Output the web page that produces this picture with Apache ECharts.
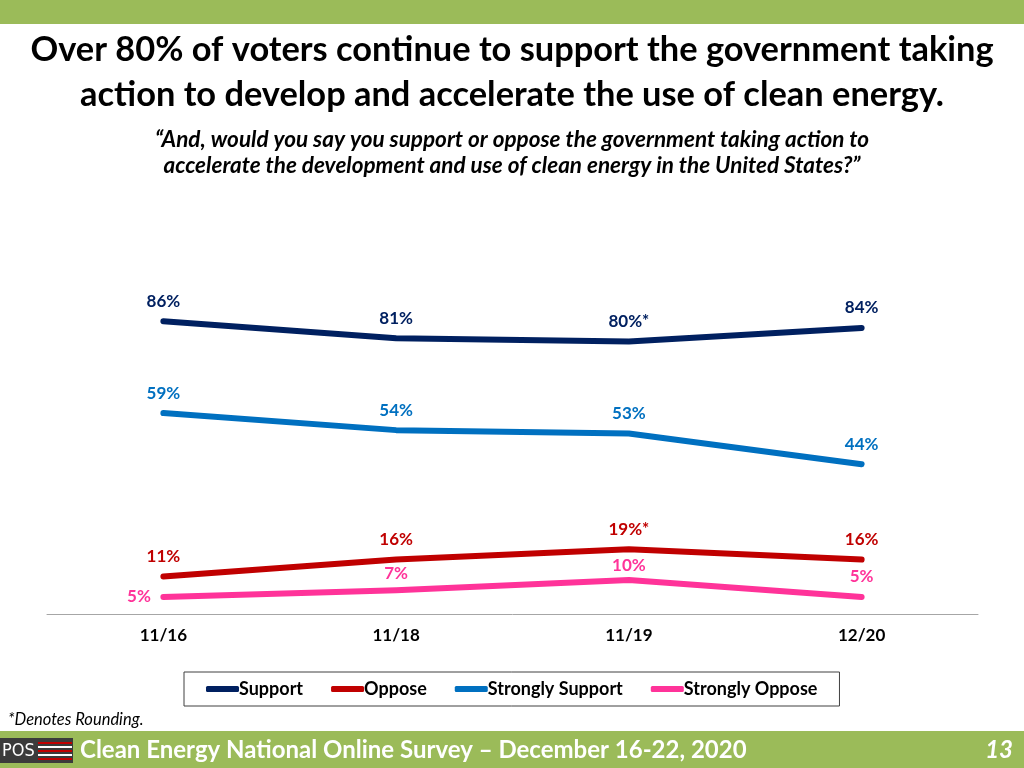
<!DOCTYPE html>
<html><head><meta charset="utf-8">
<script src="https://cdn.jsdelivr.net/npm/echarts@6/dist/echarts.min.js"></script>
<style>html,body{margin:0;padding:0;background:#fff}#c{width:1024px;height:768px}</style>
</head><body><div id="c"></div>
<script>
const categories = ['11/16', '11/18', '11/19', '12/20'];
const support = [86, 81, 80, 84];
const oppose = [11, 16, 19, 16];
const stronglySupport = [59, 54, 53, 44];
const stronglyOppose = [5, 7, 10, 5];
const supportNotes = ['', '', '*', ''];
const opposeNotes = ['', '', '*', ''];
const seriesNames = ['Support', 'Oppose', 'Strongly Support', 'Strongly Oppose'];
const colors = ['#002060', '#c00000', '#0070c0', '#ff3399'];

const FONT = 'Lato';
function mkData(vals, notes, posOverride) {
  return vals.map((v, i) => {
    const d = { value: v, label: { formatter: v + '%' + ((notes && notes[i]) || '') } };
    if (posOverride && posOverride[i]) Object.assign(d.label, posOverride[i]);
    return d;
  });
}
function mkSeries(name, data, color) {
  return {
    name, type: 'line', data, symbol: 'circle', symbolSize: 1, showSymbol: true,
    itemStyle: { color }, lineStyle: { width: 6, color, cap: 'round', join: 'round' },
    label: { show: true, position: 'top', distance: 11, color, fontFamily: FONT, fontWeight: 'bold', fontSize: 17 },
    emphasis: { disabled: true }, animation: false
  };
}

const chart = echarts.init(document.getElementById('c'), null, { renderer: 'canvas' });
chart.setOption({
  animation: false,
  color: colors,
  grid: { left: 47, right: 46, top: 273.5, bottom: 154 },
  xAxis: {
    type: 'category', data: categories, boundaryGap: true,
    axisLine: { lineStyle: { color: '#a6a6a6', width: 1 } },
    axisTick: { show: false },
    axisLabel: { margin: 13, color: '#000', fontFamily: FONT, fontWeight: 'bold', fontSize: 17 }
  },
  yAxis: { type: 'value', min: 0, max: 100, show: false, splitLine: { show: false } },
  legend: {
    data: seriesNames, left: 184, top: 672, orient: 'horizontal',
    itemWidth: 33, itemHeight: 6, icon: 'roundRect', itemGap: 28,
    borderColor: '#404040', borderWidth: 1, borderRadius: 0, padding: [8, 22, 8, 22],
    textStyle: { fontFamily: FONT, fontWeight: 'bold', fontSize: 18, color: '#000', padding: [0, 0, 0, -5] }
  },
  series: [
    mkSeries('Support', mkData(support, supportNotes), colors[0]),
    mkSeries('Oppose', mkData(oppose, opposeNotes), colors[1]),
    mkSeries('Strongly Support', mkData(stronglySupport), colors[2]),
    mkSeries('Strongly Oppose', mkData(stronglyOppose, null, [{ position: 'left', distance: 12 }, { distance: 8 }, { distance: 5 }, null]), colors[3])
  ],
  graphic: [
    { type: 'rect', shape: { x: 0, y: 0, width: 1024, height: 24 }, style: { fill: '#9bbb59' }, silent: true },
    { type: 'text', x: 512, y: 50, style: { text: 'Over 80% of voters continue to support the government taking', font: 'bold 34.4px Lato', fill: '#000', textAlign: 'center', textVerticalAlign: 'middle' } },
    { type: 'text', x: 512, y: 95, style: { text: 'action to develop and accelerate the use of clean energy.', font: 'bold 34.4px Lato', fill: '#000', textAlign: 'center', textVerticalAlign: 'middle' } },
    { type: 'text', x: 512, y: 140, style: { text: '\u201CAnd, would you say you support or oppose the government taking action to', font: 'italic bold 22.5px Lato', fill: '#000', textAlign: 'center', textVerticalAlign: 'middle' } },
    { type: 'text', x: 512, y: 166, style: { text: 'accelerate the development and use of clean energy in the United States?\u201D', font: 'italic bold 22.5px Lato', fill: '#000', textAlign: 'center', textVerticalAlign: 'middle' } },
    { type: 'rect', shape: { x: 0, y: 731, width: 1024, height: 37 }, style: { fill: '#9bbb59' }, silent: true },
    { type: 'text', x: 8, y: 720, style: { text: '*Denotes Rounding.', font: 'italic 16.5px Lato', fill: '#000', textVerticalAlign: 'middle' } },
    { type: 'rect', shape: { x: 0, y: 738, width: 73, height: 25 }, style: { fill: '#3b3b3b' }, silent: true },
    { type: 'text', x: 2, y: 751, style: { text: 'POS', font: '18px "DejaVu Sans Condensed", sans-serif', fill: '#fff', textVerticalAlign: 'middle' } },
    { type: 'rect', shape: { x: 38, y: 742, width: 34, height: 2 }, style: { fill: '#c00000' } },
    { type: 'rect', shape: { x: 38, y: 746, width: 34, height: 2 }, style: { fill: '#ffffff' } },
    { type: 'rect', shape: { x: 38, y: 750, width: 34, height: 2 }, style: { fill: '#c00000' } },
    { type: 'rect', shape: { x: 38, y: 754, width: 34, height: 2 }, style: { fill: '#ffffff' } },
    { type: 'rect', shape: { x: 38, y: 758, width: 34, height: 2 }, style: { fill: '#c00000' } },
    { type: 'text', x: 80, y: 750, style: { text: 'Clean Energy National Online Survey \u2013 December 16-22, 2020', font: 'bold 24px Lato', fill: '#fff', textVerticalAlign: 'middle' } },
    { type: 'text', x: 1013, y: 750, style: { text: '13', font: 'italic bold 24px Lato', fill: '#fff', textAlign: 'right', textVerticalAlign: 'middle' } }
  ]
});
</script></body></html>
